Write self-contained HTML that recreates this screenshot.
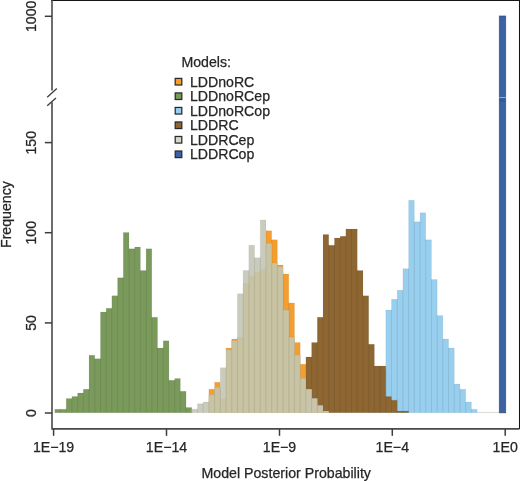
<!DOCTYPE html>
<html><head><meta charset="utf-8"><style>
html,body{margin:0;padding:0;background:#fff;width:520px;height:481px;overflow:hidden}
svg{display:block;will-change:transform}
</style></head><body>
<svg width="520" height="481" viewBox="0 0 520 481">
<rect width="520" height="481" fill="#fff"/>
<line x1="54.80" y1="412.40" x2="505.65" y2="412.40" stroke="#d6d6cf" stroke-width="0.9"/>
<path d="M208.89 412.80V389.37H214.60V382.17H220.30V398.38H226.01V347.93H231.72V338.92H237.42V337.12H243.13V283.06H248.84V275.85H254.55V272.24H260.25V268.64H265.96V230.80H271.67V239.81H277.37V265.04H283.08V274.05H288.79V302.88H294.49V342.52H300.20V364.15H305.91V412.80Z" fill="#f49e2f"/>
<path d="M208.89 412.80V389.37H214.60V412.80M214.60 412.80V382.17H220.30V412.80M220.30 412.80V398.38H226.01V412.80M226.01 412.80V347.93H231.72V412.80M231.72 412.80V338.92H237.42V412.80M237.42 412.80V337.12H243.13V412.80M243.13 412.80V283.06H248.84V412.80M248.84 412.80V275.85H254.55V412.80M254.55 412.80V272.24H260.25V412.80M260.25 412.80V268.64H265.96V412.80M265.96 412.80V230.80H271.67V412.80M271.67 412.80V239.81H277.37V412.80M277.37 412.80V265.04H283.08V412.80M283.08 412.80V274.05H288.79V412.80M288.79 412.80V302.88H294.49V412.80M294.49 412.80V342.52H300.20V412.80M300.20 412.80V364.15H305.91V412.80" fill="none" stroke="#333" stroke-opacity="0.08" stroke-width="0.8"/>
<path d="M54.80 412.80V409.20H60.51V409.20H66.21V398.38H71.92V396.58H77.63V392.98H83.33V389.37H89.04V355.14H94.75V358.74H100.46V311.89H106.16V308.28H111.87V295.67H117.58V277.65H123.28V232.60H128.99V248.82H134.70V247.02H140.41V270.44H146.11V248.82H151.82V317.29H157.53V347.93H163.23V340.72H168.94V380.36H174.65V378.56H180.35V391.18H186.06V407.39H191.77V412.80Z" fill="#7a9a5b"/>
<path d="M54.80 412.80V409.20H60.51V412.80M60.51 412.80V409.20H66.21V412.80M66.21 412.80V398.38H71.92V412.80M71.92 412.80V396.58H77.63V412.80M77.63 412.80V392.98H83.33V412.80M83.33 412.80V389.37H89.04V412.80M89.04 412.80V355.14H94.75V412.80M94.75 412.80V358.74H100.46V412.80M100.46 412.80V311.89H106.16V412.80M106.16 412.80V308.28H111.87V412.80M111.87 412.80V295.67H117.58V412.80M117.58 412.80V277.65H123.28V412.80M123.28 412.80V232.60H128.99V412.80M128.99 412.80V248.82H134.70V412.80M134.70 412.80V247.02H140.41V412.80M140.41 412.80V270.44H146.11V412.80M146.11 412.80V248.82H151.82V412.80M151.82 412.80V317.29H157.53V412.80M157.53 412.80V347.93H163.23V412.80M163.23 412.80V340.72H168.94V412.80M168.94 412.80V380.36H174.65V412.80M174.65 412.80V378.56H180.35V412.80M180.35 412.80V391.18H186.06V412.80M186.06 412.80V407.39H191.77V412.80" fill="none" stroke="#333" stroke-opacity="0.08" stroke-width="0.8"/>
<path d="M368.69 412.80V380.36H374.39V376.76H380.10V369.55H385.81V310.09H391.51V299.27H397.22V290.26H402.93V268.64H408.63V200.16H414.34V221.79H420.05V212.78H425.75V239.81H431.46V279.45H437.17V315.49H442.88V338.92H448.58V347.93H454.29V383.97H460.00V389.37H465.70V401.99H471.41V409.20H477.12V412.80Z" fill="#98cfee"/>
<path d="M368.69 412.80V380.36H374.39V412.80M374.39 412.80V376.76H380.10V412.80M380.10 412.80V369.55H385.81V412.80M385.81 412.80V310.09H391.51V412.80M391.51 412.80V299.27H397.22V412.80M397.22 412.80V290.26H402.93V412.80M402.93 412.80V268.64H408.63V412.80M408.63 412.80V200.16H414.34V412.80M414.34 412.80V221.79H420.05V412.80M420.05 412.80V212.78H425.75V412.80M425.75 412.80V239.81H431.46V412.80M431.46 412.80V279.45H437.17V412.80M437.17 412.80V315.49H442.88V412.80M442.88 412.80V338.92H448.58V412.80M448.58 412.80V347.93H454.29V412.80M454.29 412.80V383.97H460.00V412.80M460.00 412.80V389.37H465.70V412.80M465.70 412.80V401.99H471.41V412.80M471.41 412.80V409.20H477.12V412.80" fill="none" stroke="#333" stroke-opacity="0.08" stroke-width="0.8"/>
<path d="M305.91 412.80V356.94H311.62V342.52H317.32V317.29H323.03V234.40H328.74V245.21H334.44V238.01H340.15V236.20H345.86V229.00H351.56V229.00H357.27V270.44H362.98V295.67H368.69V344.32H374.39V365.95H380.10V365.95H385.81V396.58H391.51V400.19H397.22V411.00H402.93V411.00H408.63V412.80Z" fill="#8d6632"/>
<path d="M305.91 412.80V356.94H311.62V412.80M311.62 412.80V342.52H317.32V412.80M317.32 412.80V317.29H323.03V412.80M323.03 412.80V234.40H328.74V412.80M328.74 412.80V245.21H334.44V412.80M334.44 412.80V238.01H340.15V412.80M340.15 412.80V236.20H345.86V412.80M345.86 412.80V229.00H351.56V412.80M351.56 412.80V229.00H357.27V412.80M357.27 412.80V270.44H362.98V412.80M362.98 412.80V295.67H368.69V412.80M368.69 412.80V344.32H374.39V412.80M374.39 412.80V365.95H380.10V412.80M380.10 412.80V365.95H385.81V412.80M385.81 412.80V396.58H391.51V412.80M391.51 412.80V400.19H397.22V412.80M397.22 412.80V411.00H402.93V412.80M402.93 412.80V411.00H408.63V412.80" fill="none" stroke="#333" stroke-opacity="0.08" stroke-width="0.8"/>
<path d="M191.77 412.80V409.20H197.47V403.79H203.18V401.99H208.89V394.78H214.60V387.57H220.30V367.75H226.01V349.73H231.72V340.72H237.42V293.87H243.13V270.44H248.84V245.21H254.55V257.83H260.25V219.99H265.96V243.41H271.67V263.23H277.37V266.84H283.08V310.09H288.79V337.12H294.49V355.14H300.20V378.56H305.91V389.37H311.62V398.38H317.32V405.59H323.03V411.00H328.74V412.80Z" fill="#c9ccbc"/>
<path d="M305.91 412.80V389.37H311.62V412.80ZM311.62 412.80V398.38H317.32V412.80ZM317.32 412.80V405.59H323.03V412.80ZM323.03 412.80V411.00H328.74V412.80Z" fill="#c9c4ab"/>
<path d="M208.89 412.80V394.78H214.60V412.80ZM214.60 412.80V387.57H220.30V412.80ZM220.30 412.80V398.38H226.01V412.80ZM226.01 412.80V349.73H231.72V412.80ZM231.72 412.80V340.72H237.42V412.80ZM237.42 412.80V337.12H243.13V412.80ZM243.13 412.80V283.06H248.84V412.80ZM248.84 412.80V275.85H254.55V412.80ZM254.55 412.80V272.24H260.25V412.80ZM260.25 412.80V268.64H265.96V412.80ZM265.96 412.80V243.41H271.67V412.80ZM271.67 412.80V263.23H277.37V412.80ZM277.37 412.80V266.84H283.08V412.80ZM283.08 412.80V310.09H288.79V412.80ZM288.79 412.80V337.12H294.49V412.80ZM294.49 412.80V355.14H300.20V412.80ZM300.20 412.80V378.56H305.91V412.80Z" fill="#c8c4a3"/>
<path d="M191.77 412.80V409.20H197.47V412.80M197.47 412.80V403.79H203.18V412.80M203.18 412.80V401.99H208.89V412.80M208.89 412.80V394.78H214.60V412.80M214.60 412.80V387.57H220.30V412.80M220.30 412.80V367.75H226.01V412.80M226.01 412.80V349.73H231.72V412.80M231.72 412.80V340.72H237.42V412.80M237.42 412.80V293.87H243.13V412.80M243.13 412.80V270.44H248.84V412.80M248.84 412.80V245.21H254.55V412.80M254.55 412.80V257.83H260.25V412.80M260.25 412.80V219.99H265.96V412.80M265.96 412.80V243.41H271.67V412.80M271.67 412.80V263.23H277.37V412.80M277.37 412.80V266.84H283.08V412.80M283.08 412.80V310.09H288.79V412.80M288.79 412.80V337.12H294.49V412.80M294.49 412.80V355.14H300.20V412.80M300.20 412.80V378.56H305.91V412.80M305.91 412.80V389.37H311.62V412.80M311.62 412.80V398.38H317.32V412.80M317.32 412.80V405.59H323.03V412.80M323.03 412.80V411.00H328.74V412.80" fill="none" stroke="#333" stroke-opacity="0.08" stroke-width="0.8"/>
<rect x="499.35" y="16" width="6.307" height="396.80" fill="#3d62a3" stroke="#2e3f66" stroke-width="0.9" stroke-opacity="0.7"/>
<rect x="499.35" y="97" width="6.307" height="0.9" fill="#9fb6e2"/>
<rect x="499.35" y="98.5" width="6.307" height="3.5" fill="#2c4a80" fill-opacity="0.35"/>
<g stroke="#3c3c3c" stroke-width="1.5" fill="none">
<path d="M51 0.5 H519.5 V428.9" stroke="#151515" stroke-width="1.05"/>
<path d="M519.5 428.9 H52 V102.3" stroke="#4a4a4a" stroke-width="1.6"/>
<path d="M52 0 V90.4" stroke="#4a4a4a" stroke-width="1.6"/>
<path d="M47.2 97.2 L56.8 88.5 M47.2 105.8 L56 97.9" stroke-width="1.3"/>
<path d="M44.8 16.3 H52"/>
<path d="M44.8 142.6 H52"/>
<path d="M44.8 232.7 H52"/>
<path d="M44.8 322.9 H52"/>
<path d="M44.8 413.0 H52"/>
<path d="M53.6 429 V435.8"/>
<path d="M166.5 429 V435.8"/>
<path d="M279.5 429 V435.8"/>
<path d="M392.3 429 V435.8"/>
<path d="M505.2 429 V435.8"/>
</g>
<g font-family="Liberation Sans, sans-serif" font-size="14.15" fill="#262626" stroke="#262626" stroke-width="0.25">
<text transform="translate(36.2 16.3) rotate(-90)" text-anchor="middle">1000</text>
<text transform="translate(36.2 142.7) rotate(-90)" text-anchor="middle">150</text>
<text transform="translate(36.2 232.8) rotate(-90)" text-anchor="middle">100</text>
<text transform="translate(36.2 322.9) rotate(-90)" text-anchor="middle">50</text>
<text transform="translate(36.2 413.1) rotate(-90)" text-anchor="middle">0</text>
<text transform="translate(11.0 214.6) rotate(-90)" text-anchor="middle">Frequency</text>
<text x="53.6" y="452" text-anchor="middle">1E−19</text>
<text x="166.5" y="452" text-anchor="middle">1E−14</text>
<text x="279.5" y="452" text-anchor="middle">1E−9</text>
<text x="392.3" y="452" text-anchor="middle">1E−4</text>
<text x="505.2" y="452" text-anchor="middle">1E0</text>
<text x="286.2" y="477.6" text-anchor="middle" font-size="14.2">Model Posterior Probability</text>
<text x="181.4" y="66.8">Models:</text>
<text x="189.9" y="86.50">LDDnoRC</text>
<rect x="175.2" y="78.40" width="6.6" height="6.6" fill="#f49e2f" stroke="#2a2a2a" stroke-width="1.25"/>
<text x="189.9" y="101.02">LDDnoRCep</text>
<rect x="175.2" y="92.92" width="6.6" height="6.6" fill="#7a9a5b" stroke="#2a2a2a" stroke-width="1.25"/>
<text x="189.9" y="115.54">LDDnoRCop</text>
<rect x="175.2" y="107.44" width="6.6" height="6.6" fill="#98cfee" stroke="#2a2a2a" stroke-width="1.25"/>
<text x="189.9" y="130.06">LDDRC</text>
<rect x="175.2" y="121.96" width="6.6" height="6.6" fill="#8d6632" stroke="#2a2a2a" stroke-width="1.25"/>
<text x="189.9" y="144.58">LDDRCep</text>
<rect x="175.2" y="136.48" width="6.6" height="6.6" fill="#d6d8cc" stroke="#2a2a2a" stroke-width="1.25"/>
<text x="189.9" y="159.10">LDDRCop</text>
<rect x="175.2" y="151.00" width="6.6" height="6.6" fill="#3d62a3" stroke="#2a2a2a" stroke-width="1.25"/>
</g>
</svg>
</body></html>
